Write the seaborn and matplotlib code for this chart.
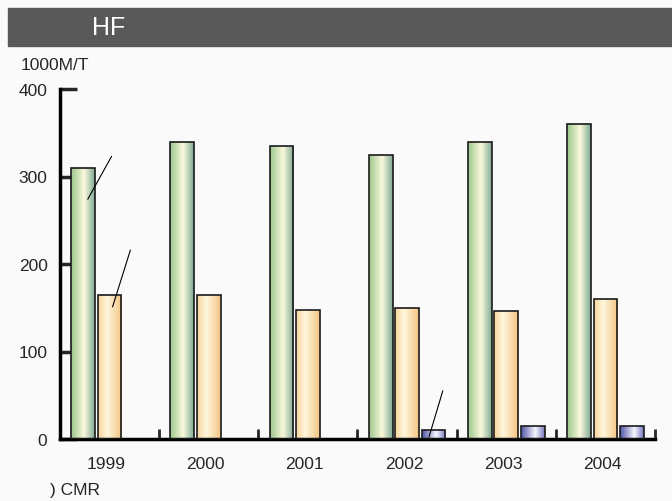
import numpy as np
import pandas as pd
import matplotlib
matplotlib.use("Agg")
import matplotlib.pyplot as plt
from matplotlib.colors import LinearSegmentedColormap
from matplotlib.patches import Rectangle
from matplotlib.transforms import ScaledTranslation
import seaborn as sns

# -------- data --------
years = ["1999", "2000", "2001", "2002", "2003", "2004"]
series_a = [310, 340, 335, 325, 340, 360]
series_b = [165, 165, 148, 150, 146, 160]
series_c = [np.nan, np.nan, np.nan, 10, 15, 15]
series_names = ["A", "B", "C"]
yticks = [0, 100, 200, 300, 400]

# leader lines left without labels (category units, values)
leaders = [((-0.22, 274), (0.02, 323)),
           ((0.03, 151), (0.21, 216)),
           ((3.22, 2), (3.36, 55))]

df = pd.DataFrame({
    "year": years * 3,
    "value": series_a + series_b + series_c,
    "series": [s for s in series_names for _ in years],
})

# gradient stops per series: (left, light, right, position of light)
grads = {
    "A": ["#9cc78e", "#fbf9dc", "#7fab95", 0.55],
    "B": ["#f8d49a", "#fff7de", "#f3c483", 0.38],
    "C": ["#5054a6", "#f7f7ff", "#7577bd", 0.6],
}
base = {k: v[0] for k, v in grads.items()}

sns.set_style("white")
plt.rcParams["font.family"] = ["Liberation Sans", "DejaVu Sans"]

fig = plt.figure(figsize=(6.72, 5.02), dpi=100, facecolor="#fafafa")
ax = fig.add_axes([60 / 672, 62 / 502, 595 / 672, 350 / 502])
ax.set_facecolor("#fafafa")

sns.barplot(data=df, x="year", y="value", hue="series", palette=base,
            width=0.8, gap=0.1, edgecolor="#1a1a1a", linewidth=1.2,
            legend=False, ax=ax)

# horizontal gradient fill clipped to each bar
for patch, name in zip(ax.patches, [s for s in series_names for _ in years]):
    x, y = patch.get_x(), patch.get_y()
    w, h = patch.get_width(), patch.get_height()
    if not np.isfinite(h) or h == 0:
        continue
    left, light, right, mid = grads[name]
    cmap = LinearSegmentedColormap.from_list(name, [(0, left), (mid, light), (1, right)])
    img = ax.imshow(np.linspace(0, 1, 64).reshape(1, -1), cmap=cmap,
                    extent=[x, x + w, y, y + h], aspect="auto",
                    interpolation="bicubic", zorder=2)
    img.set_clip_path(patch)
    patch.set_facecolor("none")
    patch.set_zorder(3)

for (x0, y0), (x1, y1) in leaders:
    ax.plot([x0, x1], [y0, y1], color="black", lw=0.8, zorder=4)

ax.set_xlim(-0.5, 5.5)
ax.set_ylim(0, 400)
ax.set_yticks(yticks)
ax.set_xlabel("")
ax.set_ylabel("")

for s in ["top", "right"]:
    ax.spines[s].set_visible(False)
for s in ["left", "bottom"]:
    ax.spines[s].set_linewidth(2.5)
    ax.spines[s].set_color("black")

ax.tick_params(axis="y", direction="in", length=12, width=2.5, pad=9,
               labelsize=12.5, left=True)
ax.tick_params(axis="x", which="major", length=0, pad=12, labelsize=12.5)
ax.set_xticks(np.arange(0.5, 6, 1), minor=True)
ax.tick_params(axis="x", which="minor", direction="in", length=7, width=2,
               bottom=True)
# year labels sit a little left of the group centre
for lbl in ax.get_xticklabels():
    lbl.set_transform(lbl.get_transform() + ScaledTranslation(-3 / 100, 0, fig.dpi_scale_trans))

# title band
fig.patches.append(Rectangle((8 / 672, 1 - 47 / 502), 664 / 672, 38 / 502,
                             transform=fig.transFigure, color="#595959",
                             zorder=0))
fig.text(92 / 672, 1 - 28 / 502, "HF", color="white", fontsize=18,
         va="center", ha="left")
fig.text(21 / 672, 1 - 66 / 502, "1000M/T", fontsize=12.5, va="center")
fig.text(50 / 672, 1 - 491 / 502, ") CMR", fontsize=12.5, va="center")

fig.savefig("out.png", dpi=100, facecolor=fig.get_facecolor())
